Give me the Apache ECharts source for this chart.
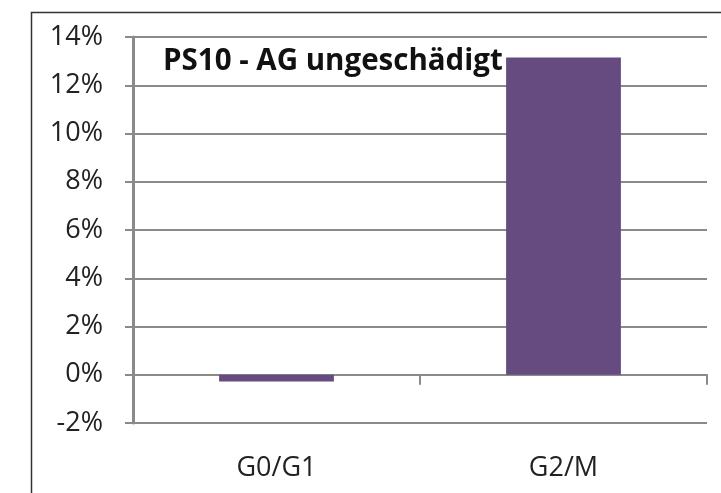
<!DOCTYPE html>
<html>
<head>
<meta charset="utf-8">
<script src="https://cdn.jsdelivr.net/npm/echarts@6/dist/echarts.min.js"></script>
<style>html,body{margin:0;padding:0;background:#fff}#c{width:721px;height:493px}</style>
</head>
<body>
<div id="c"></div>
<script>
const titleText = 'PS10 - AG ungeschädigt';
const categories = ['G0/G1', 'G2/M'];
const values = [-0.28, 13.15];
const yMin = -2, yMax = 14, yStep = 2;

const chart = echarts.init(document.getElementById('c'), null, {renderer: 'canvas'});
const font = '"Open Sans", sans-serif';
chart.setOption({
  animation: false,
  backgroundColor: '#fff',
  title: {
    text: titleText,
    left: 163, top: 47, padding: 0,
    textStyle: {fontFamily: font, fontWeight: 'bold', fontSize: 29.5, color: '#111'}
  },
  graphic: [{
    type: 'rect', z: 100, silent: true,
    shape: {x: 31.5, y: 12.5, width: 720, height: 520},
    style: {fill: 'none', stroke: '#333', lineWidth: 1.5}
  }],
  grid: {left: 133, right: 14, top: 37, bottom: 70, outerBoundsMode: 'none', containLabel: false},
  xAxis: {
    type: 'category', data: categories,
    axisLine: {onZero: true, lineStyle: {color: '#8a8a8a', width: 2}},
    axisTick: {show: true, length: 10, lineStyle: {color: '#8a8a8a', width: 2}},
    axisLabel: {fontFamily: font, fontSize: 27, color: '#222', margin: 32}
  },
  yAxis: {
    type: 'value', min: yMin, max: yMax, interval: yStep,
    axisLine: {show: true, lineStyle: {color: '#8a8a8a', width: 3}},
    axisTick: {show: true, length: 8, lineStyle: {color: '#8a8a8a', width: 2}},
    splitLine: {lineStyle: {color: '#8a8a8a', width: 2}},
    axisLabel: {fontFamily: font, fontSize: 27, color: '#222', margin: 30,
      formatter: v => v + '%'}
  },
  series: [{
    type: 'bar', data: values, barWidth: '40%',
    itemStyle: {color: '#664b80'}
  }]
});
</script>
</body>
</html>
